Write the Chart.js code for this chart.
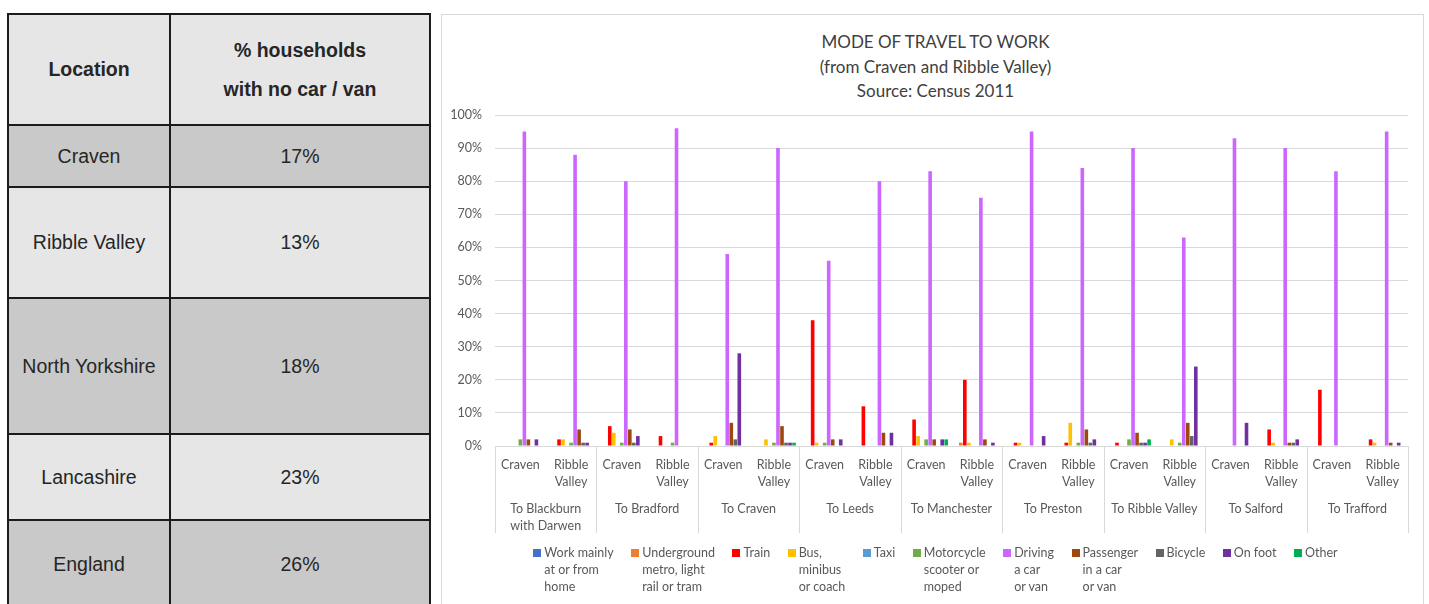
<!DOCTYPE html>
<html>
<head>
<meta charset="utf-8">
<title>Mode of travel to work</title>
<script src="https://cdn.jsdelivr.net/npm/chart.js@4.4.1/dist/chart.umd.min.js"></script>
<style>
  body {
    margin: 0;
    width: 1429px;
    height: 604px;
    overflow: hidden;
    position: relative;
    background: #fff;
    font-family: "Liberation Sans", Arial, sans-serif;
  }
  /* tabla de hogares sin coche */
  #no-car {
    position: absolute;
    left: 7px;
    top: 13px;
    border-collapse: collapse;
    table-layout: fixed;
    color: #262626;
    font-size: 19.5px;
  }
  #no-car td, #no-car th {
    border: 2px solid #1c1c1c;
    text-align: center;
    vertical-align: middle;
    padding: 0;
  }
  #no-car th { font-weight: bold; background: #e6e6e6; }
  #no-car th.two { line-height: 39px; }
  #no-car tr.dark td { background: #c9c9c9; }
  #no-car tr.light td { background: #e6e6e6; }

  #panel {
    position: absolute;
    left: 441px;
    top: 14px;
    width: 981px;
    height: 600px;
    border: 1px solid #d9d9d9;
    background: #fff;
  }
  #chart-title {
    position: absolute;
    left: 0;
    top: 15px;
    width: 987px;
    text-align: center;
    font-family: Lato, sans-serif;
    font-size: 17px;
    line-height: 24.5px;
    color: #404040;
  }
  #chart-box {
    position: absolute;
    left: 0;
    top: 0;
    width: 981px;
    height: 530px;
  }
  #legend {
    position: absolute;
    left: 3px;
    top: 529px;
    width: 981px;
    display: flex;
    justify-content: center;
    gap: 17.5px;
    font-family: Lato, sans-serif;
    font-size: 12.5px;
    line-height: 17px;
    color: #595959;
  }
  .item { display: flex; align-items: flex-start; }
  .item i {
    display: block;
    width: 8px;
    height: 8px;
    margin: 4.5px 3px 0 0;
  }
</style>
</head>
<body>

<table id="no-car">
  <colgroup><col style="width:162px"><col style="width:260px"></colgroup>
  <thead>
    <tr style="height:111px">
      <th>Location</th>
      <th class="two">% households<br>with no car / van</th>
    </tr>
  </thead>
  <tbody id="no-car-body"></tbody>
</table>

<div id="panel">
  <div id="chart-title"></div>
  <div id="chart-box"><canvas id="travel-chart"></canvas></div>
  <div id="legend"></div>
</div>

<script>
// Tabla: % de hogares sin coche / furgoneta
const locations = ['Craven', 'Ribble Valley', 'North Yorkshire', 'Lancashire', 'England'];
const noCarPct = [17, 13, 18, 23, 26];
const rowHeights = [62, 111, 136, 86, 88];

const tbody = document.getElementById('no-car-body');
locations.forEach((loc, i) => {
    const tr = document.createElement('tr');
    tr.className = i % 2 === 0 ? 'dark' : 'light';
    tr.style.height = rowHeights[i] + 'px';
    tr.innerHTML = '<td>' + loc + '</td><td>' + noCarPct[i] + '%</td>';
    tbody.appendChild(tr);
});

// Gráfico: modo de viaje al trabajo
const titleLines = ['MODE OF TRAVEL TO WORK', '(from Craven and Ribble Valley)', 'Source: Census 2011'];

const destinations = [
    ['To Blackburn', 'with Darwen'], 'To Bradford', 'To Craven', 'To Leeds', 'To Manchester',
    'To Preston', 'To Ribble Valley', 'To Salford', 'To Trafford'
];
const origins = ['Craven', ['Ribble', 'Valley']];
const categories = [];
destinations.forEach(() => origins.forEach(o => categories.push(o)));

const yTicks = [0, 10, 20, 30, 40, 50, 60, 70, 80, 90, 100];

// valores en %, orden: Blackburn (Craven, RV), Bradford, Craven, Leeds, Manchester, Preston, Ribble Valley, Salford, Trafford
const workHome    = [0, 0, 0, 0, 0, 0, 0, 0, 0, 0, 0, 0, 0, 0, 0, 0, 0, 0];
const underground = [0, 0, 0, 0, 0, 0, 0, 0, 0, 1, 0, 0, 0, 0, 0, 0, 0, 0];
const train       = [0, 2, 6, 3, 1, 0, 38, 12, 8, 20, 1, 1, 1, 0, 0, 5, 17, 2];
const bus         = [0, 2, 4, 0, 3, 2, 1, 0, 3, 1, 1, 7, 0, 2, 0, 1, 0, 1];
const taxi        = [0, 0, 0, 0, 0, 0, 0, 0, 0, 0, 0, 0, 0, 0, 0, 0, 0, 0];
const motorcycle  = [2, 1, 1, 1, 0, 1, 1, 0, 2, 0, 0, 1, 2, 1, 0, 0, 0, 0];
const driving     = [95, 88, 80, 96, 58, 90, 56, 80, 83, 75, 95, 84, 90, 63, 93, 90, 83, 95];
const passenger   = [2, 5, 5, 0, 7, 6, 2, 4, 2, 2, 0, 5, 4, 7, 0, 1, 0, 1];
const bicycle     = [0, 1, 1, 0, 2, 1, 0, 0, 0, 0, 0, 1, 1, 3, 0, 1, 0, 0];
const onFoot      = [2, 1, 3, 0, 28, 1, 2, 4, 2, 1, 3, 2, 1, 24, 7, 2, 0, 1];
const other       = [0, 0, 0, 0, 0, 1, 0, 0, 2, 0, 0, 0, 2, 0, 0, 0, 0, 0];

const modes = [
    ['Work mainly', 'at or from', 'home'],
    ['Underground', 'metro, light', 'rail or tram'],
    ['Train'],
    ['Bus,', 'minibus', 'or coach'],
    ['Taxi'],
    ['Motorcycle', 'scooter or', 'moped'],
    ['Driving', 'a car', 'or van'],
    ['Passenger', 'in a car', 'or van'],
    ['Bicycle'],
    ['On foot'],
    ['Other']
];
const series = [workHome, underground, train, bus, taxi, motorcycle, driving, passenger, bicycle, onFoot, other];
const colors = ['#4472C4', '#ED7D31', '#FF0000', '#FFC000', '#5B9BD5', '#70AD47',
                '#CC66FF', '#9E480E', '#636363', '#7030A0', '#00B050'];

document.getElementById('chart-title').innerHTML = titleLines.join('<br>');

const tickFont = { family: 'Lato', size: 12.5, lineHeight: 1.36 };

// líneas verticales que separan los destinos
const groupLines = {
    id: 'groupLines',
    afterDraw(chart) {
        const g = chart.scales.x2;
        const ctx = chart.ctx;
        const step = g.width / destinations.length;
        ctx.save();
        ctx.strokeStyle = '#d9d9d9';
        ctx.lineWidth = 1;
        ctx.beginPath();
        for (let k = 0; k <= destinations.length; k++) {
            const x = Math.round(g.left + k * step) + 0.5;
            ctx.moveTo(x, chart.chartArea.bottom);
            ctx.lineTo(x, g.bottom);
        }
        ctx.stroke();
        ctx.restore();
    }
};

new Chart(document.getElementById('travel-chart'), {
    type: 'bar',
    data: {
        labels: categories,
        datasets: series.map((d, i) => ({
            label: modes[i].join(' '),
            data: d,
            backgroundColor: colors[i],
            borderWidth: 0,
            categoryPercentage: 0.87,
            barPercentage: 0.9
        }))
    },
    options: {
        responsive: true,
        maintainAspectRatio: false,
        animation: false,
        layout: { padding: { left: 9, right: 15, top: 100, bottom: 12 } },
        plugins: {
            legend: { display: false },
            tooltip: { enabled: false },
            title: { display: false }
        },
        scales: {
            y: {
                min: 0,
                max: 100,
                afterBuildTicks: s => { s.ticks = yTicks.map(v => ({ value: v })); },
                afterFit: s => { s.width = 44; },
                ticks: {
                    callback: v => v + '%',
                    padding: 13,
                    color: '#595959',
                    font: tickFont
                },
                grid: { color: '#d9d9d9', drawTicks: false },
                border: { display: false }
            },
            x: {
                weight: 0,
                afterFit: s => { s.height = 44; },
                grid: { display: false, drawTicks: false },
                border: { display: false },
                ticks: {
                    autoSkip: false,
                    maxRotation: 0,
                    padding: 10,
                    color: '#595959',
                    font: tickFont
                }
            },
            x2: {
                type: 'category',
                position: 'bottom',
                weight: 1,
                labels: destinations,
                offset: true,
                afterFit: s => { s.height = 43; },
                grid: { display: false, drawTicks: false },
                border: { display: false },
                ticks: {
                    autoSkip: false,
                    maxRotation: 0,
                    padding: 10,
                    color: '#595959',
                    font: tickFont
                }
            }
        }
    },
    plugins: [groupLines]
});

// leyenda con etiquetas en varias líneas
const legend = document.getElementById('legend');
modes.forEach((lines, i) => {
    const item = document.createElement('div');
    item.className = 'item';
    item.innerHTML = '<i style="background:' + colors[i] + '"></i><span>' + lines.join('<br>') + '</span>';
    legend.appendChild(item);
});
</script>
</body>
</html>
